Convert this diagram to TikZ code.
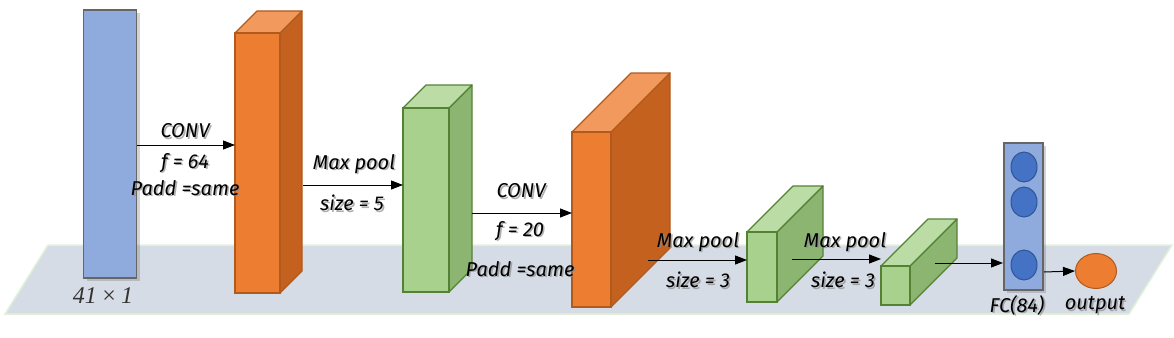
\documentclass[tikz,border=0pt]{standalone}
\usepackage{fontspec}
\setmainfont{Fira Sans}
\newfontfamily\dimfont{Liberation Serif}
\usetikzlibrary{arrows.meta,shadows,shapes.geometric}
\definecolor{plane}{HTML}{D6DCE5}
\definecolor{planeb}{HTML}{E2F0D9}
\definecolor{inblue}{HTML}{8FAADC}
\definecolor{ofront}{HTML}{ED7D31}
\definecolor{otop}{HTML}{F29A5E}
\definecolor{oside}{HTML}{C4611F}
\definecolor{oline}{HTML}{B05A1E}
\definecolor{gfront}{HTML}{A9D18E}
\definecolor{gtop}{HTML}{BCDCA6}
\definecolor{gside}{HTML}{8DB572}
\definecolor{gline}{HTML}{548235}
\definecolor{nblue}{HTML}{4472C4}
\definecolor{nline}{HTML}{2F5597}
\newcommand\cuboid[6]{% x y w h d prefix
  \filldraw[#6line,line width=1.2pt,line join=round,fill=#6side] (#1+#3,#2) -- ++(#5,-#5) -- ++(0,#4) -- ++(-#5,#5) -- cycle;
  \filldraw[#6line,line width=1.2pt,line join=round,fill=#6top] (#1,#2) -- ++(#5,-#5) -- ++(#3,0) -- ++(-#5,#5) -- cycle;
  \filldraw[#6line,line width=1.2pt,fill=#6front] (#1,#2) rectangle ++(#3,#4);
}
\newcommand\shlabel[4]{% name x y text
  \node[lbl,text=black!45,opacity=0.7] at (#2+1.6,#3+1.6) {#4};
  \node[lbl] (#1) at (#2,#3) {#4};
}
\tikzset{
  lbl/.style={font=\fontsize{20}{22}\selectfont\itshape, text=black, inner sep=0pt},
  arr/.style={-{Triangle[length=12pt,width=9pt]}, line width=1pt},
}
\begin{document}
\begin{tikzpicture}[x=1pt,y=-1pt]
\useasboundingbox (0,0) rectangle (1174,337);
% ground plane
\filldraw[fill=plane,draw=planeb,line width=1.5pt] (48,245) -- (1172,245) -- (1129,314) -- (5,314) -- cycle;
% input
\node[draw=gray!80!black,line width=1.5pt,fill=inblue,minimum width=53pt,minimum height=268pt,inner sep=0pt,
  drop shadow={opacity=0.35,shadow xshift=3pt,shadow yshift=-3pt}] (in) at (110,144) {};
\node[font=\fontsize{24}{26}\selectfont\dimfont\itshape, text=black!80, inner sep=0pt] (inl) at (103,296) {41\,×\,1};
% cuboids
\cuboid{235}{33}{45}{260}{22}{o}
\cuboid{403}{108}{46}{184}{23}{g}
\cuboid{572}{132}{39}{175}{59}{o}
\cuboid{747}{232}{30}{70}{46}{g}
\cuboid{881}{266}{29}{39}{47}{g}
% FC column
\node[draw=gray!80!black,line width=1.5pt,fill=inblue,minimum width=39pt,minimum height=147pt,inner sep=0pt,
  drop shadow={opacity=0.35,shadow xshift=3pt,shadow yshift=-3pt}] (fc) at (1023.5,216.5) {};
\foreach \yy/\nm in {167/c1,202/c2,265/c3}
  \node[ellipse,draw=nline,line width=1pt,fill=nblue,minimum width=26pt,minimum height=30pt,inner sep=0pt] (\nm) at (1024,\yy) {};
\node[ellipse,draw=oline,line width=1pt,fill=ofront,minimum width=41pt,minimum height=35pt,inner sep=0pt] (out) at (1096,271) {};
% connector end points
\coordinate (a1s) at (137,145); \coordinate (a1e) at (235,145);
\coordinate (a2s) at (303,185); \coordinate (a2e) at (403,185);
\coordinate (a3s) at (472,213); \coordinate (a3e) at (572,213);
\coordinate (a4s) at (648,260); \coordinate (a4e) at (747,260);
\coordinate (a5s) at (792,259); \coordinate (a5e) at (881,259);
\coordinate (a6s) at (935,263); \coordinate (a6e) at (1003,263);
\coordinate (a7s) at (1044,272);
\draw[arr] (a1s) -- (a1e);
\draw[arr] (a2s) -- (a2e);
\draw[arr] (a3s) -- (a3e);
\draw[arr] (a4s) -- (a4e);
\draw[arr] (a5s) -- (a5e);
\draw[arr] (a6s) -- (a6e);
\draw[arr] (a7s) -- (out.west);
% labels
\shlabel{t1}{185}{131}{CONV}
\shlabel{t2}{185}{163}{f = 64}
\shlabel{t3}{185}{188}{Padd =same}
\shlabel{t4}{354}{164}{Max pool}
\shlabel{t5}{352}{203}{size = 5}
\shlabel{t6}{521}{191}{CONV}
\shlabel{t7}{520}{231}{f = 20}
\shlabel{t8}{520}{269}{Padd =same}
\shlabel{t9}{698}{242}{Max pool}
\shlabel{t10}{698}{280}{size = 3}
\shlabel{t11}{845}{242}{Max pool}
\shlabel{t12}{843}{280}{size = 3}
\shlabel{t13}{1017}{305}{FC(84)}
\shlabel{t14}{1095}{305}{output}
\end{tikzpicture}
\end{document}
